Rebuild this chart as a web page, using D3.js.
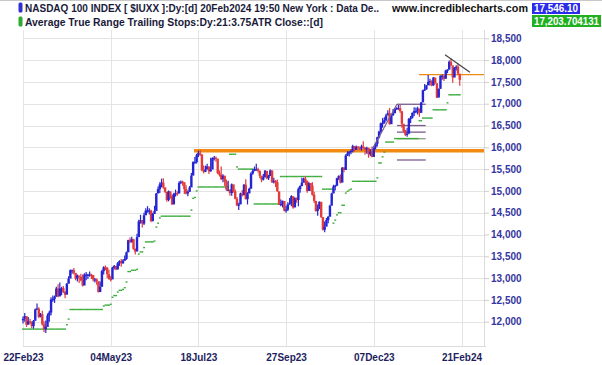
<!DOCTYPE html>
<html>
<head>
<meta charset="utf-8">
<script src="https://cdnjs.cloudflare.com/ajax/libs/d3/7.8.5/d3.min.js"></script>
<style>
  body { margin: 0; background: #fff; }
  svg { display: block; }
  text { font-family: "Liberation Sans", Arial, sans-serif; }
</style>
</head>
<body>
<svg id="chart" width="602" height="365"></svg>
<script>
// daily bars, 22Feb23 .. 20Feb24 (one entry per trading day)
const closes = [
  12060,12130,11930,12010,11990,11900,12020,12280,12300,12110,
  12170,11940,11830,11880,12140,12210,12510,12520,12570,12760,
  12580,12760,12770,12680,12620,12870,12990,13180,13180,13120,
  12990,13060,13030,12950,12830,13080,13080,13080,13080,13070,
  12970,12970,12930,12680,12800,13160,13250,13240,13090,12980,
  12970,13240,13280,13200,13340,13390,13340,13400,13440,13590,
  13870,13830,13890,13670,13610,13940,14300,14330,14250,14440,
  14550,14550,14550,14310,14470,14540,14940,15040,15150,15190,
  15080,14980,14790,14990,14890,14690,14930,14950,14940,15180,
  15210,15200,15040,14940,14980,15080,15350,15660,15660,15820,
  15870,15840,15470,15440,15490,15560,15450,15490,15750,15760,
  15740,15410,15370,15270,15350,15210,15030,15030,14950,15150,
  14990,14820,14670,14690,14940,14900,15140,14810,14940,15050,
  15400,15460,15500,15500,15460,15350,15260,15310,15460,15290,
  15340,15470,15200,15230,15200,14990,14690,14700,14770,14550,
  14570,14690,14720,14880,14620,14840,14790,15040,15110,15190,
  15280,15230,15000,15180,15120,14910,14770,14540,14580,14750,
  14400,14110,14180,14330,14410,14660,14940,15100,15120,15290,
  15340,15190,15530,15480,15810,15860,15900,15920,16030,15940,
  16010,15980,15970,16020,15990,15950,15990,15840,15900,15780,
  16000,16080,16230,16360,16550,16560,16620,16730,16780,16530,
  16740,16780,16880,16900,16900,16830,16540,16370,16290,16310,
  16650,16680,16790,16830,16830,16890,16790,17030,17310,17330,
  17420,17500,17520,17420,17600,17470,17140,17340,17640,17640,
  17570,17760,17780,17960,17880,17600,17820,17850,17690,17546.10
];
const highs = [
  12120,12200,12040,12110,12070,12010,12040,12300,12420,12330,
  12200,12250,12010,12030,12190,12250,12560,12600,12600,12800,
  12860,12900,12800,12820,12700,12890,13040,13200,13200,13230,
  13100,13080,13050,13100,13080,13110,13140,13100,13150,13100,
  13060,13000,12990,12880,12920,13190,13270,13290,13250,13190,
  13050,13260,13300,13270,13370,13410,13440,13430,13520,13610,
  13880,13930,13950,13900,13680,14020,14340,14450,14330,14500,
  14600,14650,14600,14570,14500,14660,14950,15100,15200,15280,
  15290,15080,14970,15010,14960,14920,14960,15030,14990,15220,
  15240,15230,15130,15130,15010,15110,15410,15680,15780,15850,
  15920,15930,15800,15580,15580,15620,15560,15760,15770,15800,
  15790,15680,15470,15560,15380,15290,15260,15230,15030,15170,
  15130,15030,14860,14730,14960,15020,15160,15270,14970,15070,
  15430,15500,15560,15620,15530,15470,15320,15390,15480,15420,
  15370,15490,15460,15300,15250,15260,14850,14800,14780,14700,
  14660,14740,14840,14900,14830,14850,14850,15080,15130,15300,
  15300,15340,15240,15200,15150,15200,14980,14770,14690,14760,
  14660,14270,14300,14380,14420,14680,14960,15140,15140,15300,
  15360,15380,15550,15550,15840,15910,15910,15950,16060,16020,
  16040,16030,16020,16060,16140,16000,16010,15900,15960,16020,
  16030,16110,16240,16380,16570,16670,16690,16770,16850,16900,
  16760,16880,16900,16920,16970,16970,16780,16500,16400,16450,
  16670,16720,16800,16920,16910,16930,16850,17040,17320,17450,
  17430,17660,17570,17540,17610,17590,17440,17350,17650,17670,
  17650,17780,17790,17990,18040,17720,17840,17880,17920,17640
];
const lows = [
  11960,12000,11880,11960,11950,11850,11840,12090,12270,12080,
  12100,11910,11760,11740,11990,12000,12150,12460,12430,12620,
  12560,12640,12610,12660,12540,12720,12890,13050,13100,13080,
  12950,12920,12890,12930,12810,12900,12950,12980,13030,12980,
  12920,12900,12850,12670,12750,12910,13080,13180,13000,12960,
  12920,13040,13200,13180,13200,13280,13260,13330,13400,13420,
  13620,13800,13810,13650,13540,13820,13960,14250,14160,14220,
  14450,14500,14460,14280,14300,14500,14620,14960,14950,15080,
  15050,14950,14750,14760,14820,14680,14700,14870,14890,15060,
  15160,15120,14930,14920,14880,14980,15260,15460,15620,15630,
  15780,15800,15450,15400,15430,15500,15390,15440,15580,15700,
  15670,15380,15330,15250,15200,15110,15000,14990,14890,14890,
  14960,14810,14650,14560,14700,14870,14950,14800,14690,14950,
  15060,15370,15450,15460,15420,15290,15200,15240,15370,15270,
  15250,15360,15180,15170,15090,14980,14680,14650,14620,14530,
  14500,14540,14680,14650,14590,14640,14730,14650,14960,15120,
  15190,15130,14960,15060,15000,14890,14720,14520,14430,14600,
  14380,14090,14050,14200,14260,14410,14750,14950,15010,15110,
  15250,15170,15210,15430,15720,15800,15790,15840,15880,15900,
  15970,15960,15930,15920,15960,15830,15850,15760,15800,15770,
  15830,15950,16020,16200,16320,16450,16540,16600,16750,16520,
  16560,16720,16800,16860,16860,16790,16450,16350,16260,16240,
  16350,16560,16660,16720,16780,16750,16700,16830,17050,17290,
  17320,17450,17420,17400,17410,17460,17130,17180,17350,17550,
  17520,17610,17700,17810,17860,17480,17660,17760,17650,17410
];
// ATR trailing stop (21 day, 3.75 ATR)
const stops = [
  11830,11830,11830,11830,11830,11830,11830,11830,11830,11830,
  11830,11830,11830,11830,11830,11830,11830,11830,11830,11830,
  11830,11830,11830,11830,11830,11930,12060,12280,12280,12280,
  12280,12280,12280,12280,12280,12280,12280,12280,12280,12280,
  12280,12280,12280,12280,12280,12280,12360,12380,12380,12380,
  12400,12560,12600,12600,12680,12720,12720,12740,12780,12910,
  13150,13150,13180,13180,13180,13200,13550,13600,13600,13700,
  13830,13830,13830,13830,13830,13850,14170,14260,14380,14420,
  14420,14420,14420,14420,14420,14420,14420,14420,14420,14420,
  14420,14420,14420,14420,14420,14420,14560,14830,14850,15000,
  15090,15090,15090,15090,15090,15090,15090,15090,15090,15090,
  15090,15090,15090,15090,15090,15090,15090,15090,15840,15840,
  15840,15840,15550,15500,15500,15500,15500,15500,15500,15500,
  15500,15500,14700,14700,14700,14700,14700,14700,14700,14700,
  14700,14700,14700,14700,14700,14700,14700,15330,15330,15330,
  15330,15330,15330,15330,15330,15330,15330,15330,15330,15330,
  15330,15330,15330,15330,15330,15330,15330,15330,15330,15330,
  15330,15040,15040,15040,15040,15040,15040,14260,14330,14450,
  14500,14500,14670,14670,14950,14990,15020,15040,15220,15220,
  15220,15220,15220,15220,15220,15220,15220,15220,15220,15220,
  15220,15220,15300,15640,15640,15780,15890,16120,16120,16120,
  16120,16120,16200,16200,16200,16200,16200,16200,16200,16200,
  16200,16200,16200,16200,16200,16200,16610,16610,16670,16670,
  16670,16670,16670,16670,16860,16860,16860,16860,16860,16860,
  16860,16860,17020,17204,17204,17204,17204,17204,17204,17204
];

const priceTicks = [12000,12500,13000,13500,14000,14500,15000,15500,16000,16500,17000,17500,18000,18500];
const dateTickIdx = [0, 50, 100, 150, 200, 250];
const dateTickLabels = ['22Feb23', '04May23', '18Jul23', '27Sep23', '07Dec23', '21Feb24'];

// drawn annotations: [bar index, price] pairs
const orangeLines = [
  { x1: 97.5, x2: 270, p: 15920, w: 3.5 },
  { x1: 225.8, x2: 270, p: 17666, w: 1.4 }
];
const trendLines = [
  { x1: 199.5, p1: 15985, x2: 213.2, p2: 16987, c: '#7b5b8e' },
  { x1: 240.6, p1: 18125, x2: 254.8, p2: 17720, c: '#444' }
];
const fibStart = 213.2, fibEnd = 229.6, fibHigh = 16987, fibLow = 15709;
const fibLevels = [0, 0.382, 0.5, 0.618, 1];

const title1 = 'NASDAQ 100 INDEX [ $IUXX ]:Dy:[d]  20Feb2024 19:50 New York : Data De..';
const title2 = 'Average True Range Trailing Stops:Dy:21:3.75ATR Close::[d]';

const svg = d3.select('#chart');
const plotL = 23, plotR = 484, plotT = 30, plotB = 346;

const x = d3.scaleLinear().domain([0, 250]).range([plotL, 461.5]);
const y = d3.scaleLinear().domain([12000, 18500]).range([321.7, 38.3]);

svg.append('line').attr('x1', 0).attr('x2', 602).attr('y1', 0.5).attr('y2', 0.5)
  .attr('stroke', '#c8c8c8');

// grid
const grid = svg.append('g');
grid.selectAll('.hg').data(priceTicks).enter().append('line')
  .attr('x1', plotL).attr('x2', plotR)
  .attr('y1', d => Math.round(y(d)) + 0.5).attr('y2', d => Math.round(y(d)) + 0.5)
  .attr('stroke', '#e4e4e4');
grid.selectAll('.vg').data(dateTickIdx).enter().append('line')
  .attr('x1', d => Math.round(x(d)) + 0.5).attr('x2', d => Math.round(x(d)) + 0.5)
  .attr('y1', plotT).attr('y2', plotB)
  .attr('stroke', '#e4e4e4');
svg.append('line').attr('x1', plotR + 0.5).attr('x2', plotR + 0.5).attr('y1', plotT).attr('y2', plotB)
  .attr('stroke', '#dcdcdc');
svg.append('line').attr('x1', plotL).attr('x2', plotR + 2).attr('y1', plotB + 0.5).attr('y2', plotB + 0.5)
  .attr('stroke', '#dcdcdc');

// axes
const yAxis = svg.append('g').attr('transform', `translate(${plotR},0)`)
  .call(d3.axisRight(y).tickValues(priceTicks).tickFormat(d3.format(',')).tickSize(5).tickPadding(2));
yAxis.select('.domain').remove();
yAxis.selectAll('line').attr('stroke', '#cfcfcf');
yAxis.selectAll('text').attr('fill', '#3535a0').style('font-size', '10px').style('font-weight', 'bold')
  .style('font-family', '"Liberation Sans", Arial, sans-serif');

const xAxis = svg.append('g').attr('transform', `translate(0,${plotB})`)
  .call(d3.axisBottom(x).tickValues(dateTickIdx).tickFormat((d, i) => dateTickLabels[i]).tickSize(0).tickPadding(8));
xAxis.select('.domain').remove();
xAxis.selectAll('text').attr('fill', '#1e1e60').style('font-size', '10px').style('font-weight', 'bold')
  .style('font-family', '"Liberation Sans", Arial, sans-serif');

// annotations
const ann = svg.append('g');
ann.selectAll('.orng').data(orangeLines).enter().append('line')
  .attr('x1', d => x(d.x1)).attr('x2', d => Math.min(plotR, x(d.x2)))
  .attr('y1', d => y(d.p)).attr('y2', d => y(d.p))
  .attr('stroke', '#f08a12').attr('stroke-width', d => d.w);
ann.selectAll('.fib').data(fibLevels).enter().append('line')
  .attr('x1', x(fibStart)).attr('x2', x(fibEnd))
  .attr('y1', d => y(fibHigh - d * (fibHigh - fibLow))).attr('y2', d => y(fibHigh - d * (fibHigh - fibLow)))
  .attr('stroke', d => d === 0.618 ? '#8f9a90' : '#7b5b8e').attr('stroke-width', 1.3);

// trailing stops
svg.append('g').selectAll('rect').data(stops).enter().append('rect')
  .attr('x', (d, i) => x(i) - 0.9).attr('width', 1.9)
  .attr('y', d => y(d) - 0.7).attr('height', 1.4)
  .attr('fill', '#3aab3a');

// price bars
const bars = svg.append('g');
closes.forEach((c, i) => {
  const prev = i > 0 ? closes[i - 1] : c;
  const col = c >= prev ? '#2424d4' : '#e53a3a';
  bars.append('line')
    .attr('x1', x(i)).attr('x2', x(i))
    .attr('y1', y(highs[i])).attr('y2', y(lows[i]))
    .attr('stroke', col).attr('stroke-width', 1.2);
  const yt = y(Math.max(prev, c)), yb = y(Math.min(prev, c));
  bars.append('rect')
    .attr('x', x(i) - 1.2).attr('width', 2.4)
    .attr('y', yt).attr('height', Math.max(1.2, yb - yt))
    .attr('fill', col);
});

// trend lines on top
const tl = svg.append('g');
tl.selectAll('line').data(trendLines).enter().append('line')
  .attr('x1', d => x(d.x1)).attr('x2', d => x(d.x2))
  .attr('y1', d => y(d.p1)).attr('y2', d => y(d.p2))
  .attr('stroke', d => d.c).attr('stroke-width', 1.2);

// legend
const leg = svg.append('g');
leg.append('rect').attr('x', 18.5).attr('y', 2.5).attr('width', 4).attr('height', 10).attr('rx', 1.5).attr('fill', '#3030d0');
leg.append('rect').attr('x', 18.5).attr('y', 16.5).attr('width', 4).attr('height', 10).attr('rx', 1.5).attr('fill', '#2eaa2e');
leg.append('text').attr('x', 25).attr('y', 11.5).attr('textLength', 354).attr('lengthAdjust', 'spacingAndGlyphs')
  .style('font-size', '10px').style('font-weight', 'bold').attr('fill', '#1a1a3a').text(title1);
leg.append('text').attr('x', 25).attr('y', 25.5).attr('textLength', 298).attr('lengthAdjust', 'spacingAndGlyphs')
  .style('font-size', '10.5px').style('font-weight', 'bold').attr('fill', '#1a1a3a').text(title2);
leg.append('text').attr('x', 392).attr('y', 11.5).attr('textLength', 136).attr('lengthAdjust', 'spacingAndGlyphs')
  .style('font-size', '10.5px').style('font-weight', 'bold').attr('fill', '#111').text('www.incrediblecharts.com');

const lastClose = closes[closes.length - 1];
const lastStop = 17203.704131;
leg.append('rect').attr('x', 532).attr('y', 3).attr('width', 48).attr('height', 11).attr('fill', '#2b2bea');
leg.append('text').attr('x', 534).attr('y', 12.3).attr('textLength', 44).attr('lengthAdjust', 'spacingAndGlyphs')
  .style('font-size', '10px').style('font-weight', 'bold')
  .attr('fill', '#fff').text(d3.format(',.2f')(lastClose));
leg.append('rect').attr('x', 532).attr('y', 15).attr('width', 69).attr('height', 12).attr('fill', '#20b020');
leg.append('text').attr('x', 534).attr('y', 24.5).attr('textLength', 65).attr('lengthAdjust', 'spacingAndGlyphs')
  .style('font-size', '10px').style('font-weight', 'bold')
  .attr('fill', '#fff').text(d3.format(',.6f')(lastStop));
</script>
</body>
</html>
